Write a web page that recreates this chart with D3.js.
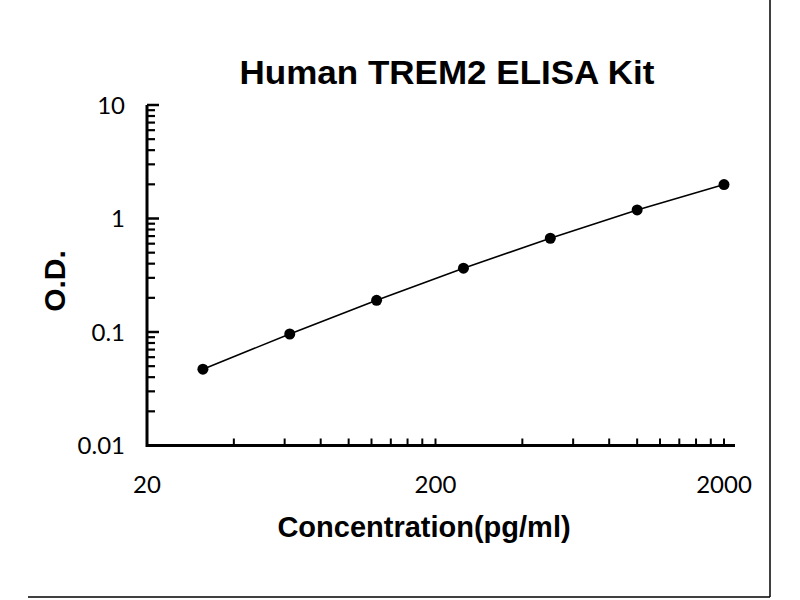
<!DOCTYPE html>
<html>
<head>
<meta charset="utf-8">
<script src="https://cdn.jsdelivr.net/npm/d3@7"></script>
<style>
  body { margin: 0; background: #fff; }
  svg { display: block; }
</style>
</head>
<body>
<div id="chart"></div>
<script>
// standard curve values
const concentrations = [31.25, 62.5, 125, 250, 500, 1000, 2000];
const odValues = [0.047, 0.096, 0.19, 0.365, 0.67, 1.19, 1.99];
const xTickLabels = [20, 200, 2000];
const yTickLabels = [0.01, 0.1, 1, 10];

const width = 800, height = 600;

const svg = d3.select("#chart").append("svg")
    .attr("width", width)
    .attr("height", height);

const x = d3.scaleLog().domain([20, 2000]).range([147, 724]);
const y = d3.scaleLog().domain([0.01, 10]).range([445.5, 105]);

// frame lines right and bottom
svg.append("line").attr("x1", 770).attr("x2", 770).attr("y1", 0).attr("y2", 597)
    .attr("stroke", "#000").attr("stroke-width", 1.5);
svg.append("line").attr("x1", 28).attr("x2", 770).attr("y1", 597).attr("y2", 597)
    .attr("stroke", "#000").attr("stroke-width", 1.5);

// minor tick values: 20*k per decade on x, k*10^n on y
const xMinor = [];
[20, 200].forEach(b => { for (let k = 2; k <= 10; k++) xMinor.push(b * k / 1); });
const yMinor = [];
[0.01, 0.1, 1].forEach(b => { for (let k = 2; k <= 9; k++) yMinor.push(b * k); });

// x axis
const xAxis = svg.append("g");
xAxis.append("line").attr("x1", 146).attr("x2", 735)
    .attr("y1", y(0.01)).attr("y2", y(0.01))
    .attr("stroke", "#000").attr("stroke-width", 3);
xAxis.selectAll(".xt").data(xMinor).enter().append("line")
    .attr("x1", d => x(d)).attr("x2", d => x(d))
    .attr("y1", y(0.01)).attr("y2", y(0.01) - 7)
    .attr("stroke", "#000").attr("stroke-width", 2);
xAxis.selectAll(".xl").data(xTickLabels).enter().append("text")
    .attr("x", d => x(d)).attr("y", 493)
    .attr("text-anchor", "middle")
    .attr("font-family", "Lato, 'Open Sans', sans-serif")
    .attr("font-size", 24)
    .text(d => d);

// y axis
const yAxis = svg.append("g");
yAxis.append("line").attr("x1", x(20)).attr("x2", x(20))
    .attr("y1", y(0.01) + 1.5).attr("y2", y(10))
    .attr("stroke", "#000").attr("stroke-width", 3);
yAxis.selectAll(".ymaj").data(yTickLabels.slice(1)).enter().append("line")
    .attr("x1", x(20)).attr("x2", x(20) + 12)
    .attr("y1", d => y(d)).attr("y2", d => y(d))
    .attr("stroke", "#000").attr("stroke-width", 2.5);
yAxis.selectAll(".ymin").data(yMinor).enter().append("line")
    .attr("x1", x(20)).attr("x2", x(20) + 8)
    .attr("y1", d => y(d)).attr("y2", d => y(d))
    .attr("stroke", "#000").attr("stroke-width", 2.2);
yAxis.selectAll(".yl").data(yTickLabels).enter().append("text")
    .attr("x", 125).attr("y", d => y(d))
    .attr("dy", "0.36em")
    .attr("text-anchor", "end")
    .attr("font-family", "Lato, 'Open Sans', sans-serif")
    .attr("font-size", 24)
    .text(d => d);

// curve
const line = d3.line()
    .x((d, i) => x(concentrations[i]))
    .y(d => y(d));
svg.append("path")
    .datum(odValues)
    .attr("d", line)
    .attr("fill", "none")
    .attr("stroke", "#000")
    .attr("stroke-width", 1.6);

svg.selectAll(".pt").data(odValues).enter().append("circle")
    .attr("cx", (d, i) => x(concentrations[i]))
    .attr("cy", d => y(d))
    .attr("r", 5.5)
    .attr("fill", "#000");

// titles
svg.append("text")
    .attr("x", 447).attr("y", 84)
    .attr("text-anchor", "middle")
    .attr("font-family", "Arial, 'Liberation Sans', sans-serif")
    .attr("font-weight", "bold")
    .attr("font-size", 33)
    .attr("textLength", 415)
    .attr("lengthAdjust", "spacingAndGlyphs")
    .text("Human TREM2 ELISA Kit");

svg.append("text")
    .attr("x", 424).attr("y", 537)
    .attr("text-anchor", "middle")
    .attr("font-family", "Arial, 'Liberation Sans', sans-serif")
    .attr("font-weight", "bold")
    .attr("font-size", 29)
    .text("Concentration(pg/ml)");

svg.append("text")
    .attr("transform", "translate(65,281) rotate(-90)")
    .attr("text-anchor", "middle")
    .attr("font-family", "Arial, 'Liberation Sans', sans-serif")
    .attr("font-weight", "bold")
    .attr("font-size", 30)
    .text("O.D.");
</script>
</body>
</html>
